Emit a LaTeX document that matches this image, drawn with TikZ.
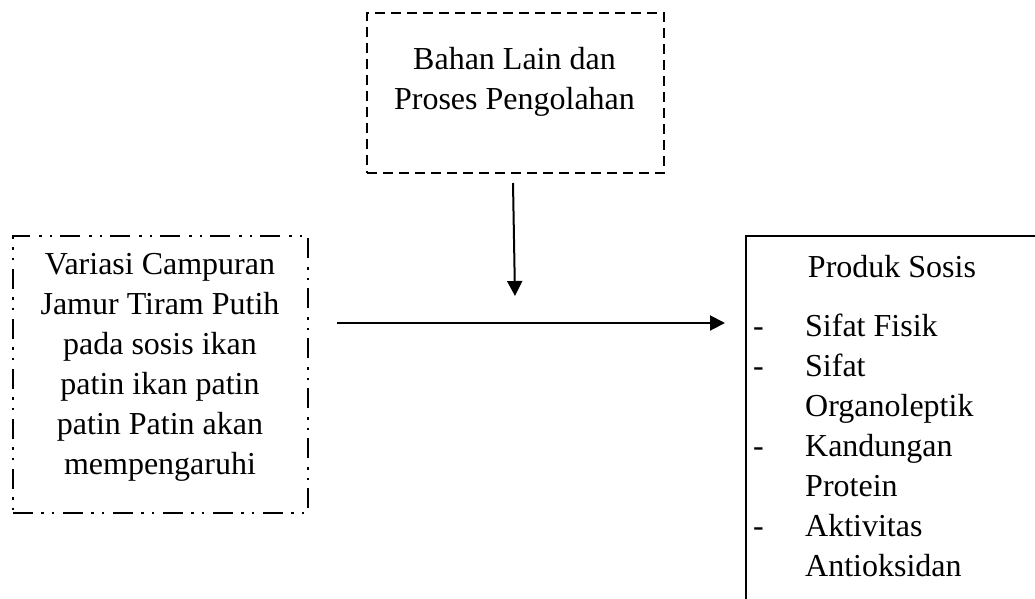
\documentclass[tikz,border=0pt]{standalone}
\usepackage{fontspec}
\setmainfont{Liberation Serif}
\usetikzlibrary{positioning, calc, arrows.meta}

\begin{document}
\begin{tikzpicture}[x=1pt, y=-1pt,
    teks/.style={font=\fontsize{32}{40}\selectfont, align=center, inner sep=0pt},
    kotak/.style={draw, line width=2pt, inner sep=0pt, anchor=north west},
    kotakputus/.style={kotak, dash pattern=on 10pt off 6pt},
    kotaktitik/.style={kotak, dash pattern=on 20pt off 8pt on 2.5pt off 8pt on 2.5pt off 9pt},
    panah/.style={line width=2pt, -{Triangle[width=15pt, length=15pt]}}]
  \useasboundingbox (0,0) rectangle (1035,598);
  \clip (0,0) rectangle (1035,598);

  % kotak atas: bahan lain
  \node[kotakputus, minimum width=297, minimum height=160] (bahan) at (366,12) {};
  \node[teks] (bahanteks) at (514.5,82) {Bahan Lain dan\\Proses Pengolahan};

  % kotak kiri: variasi campuran
  \node[kotaktitik, minimum width=295, minimum height=277] (variasi) at (12,235) {};
  \node[teks] (variasiteks) at (160,367) {Variasi Campuran\\Jamur Tiram Putih\\pada sosis ikan\\patin ikan patin\\patin Patin akan\\mempengaruhi};

  % kotak kanan: produk sosis
  \node[kotak, minimum width=297, minimum height=400] (produk) at (745,235) {};
  \node[teks] (produkjudul) at (892,267) {Produk Sosis};
  \node[teks, anchor=north west, align=left] (produkisi) at (753,308) {%
    \begin{tabular}{@{}p{52pt}@{}l@{}}
      - & Sifat Fisik\\
      - & Sifat\\
        & Organoleptik\\
      - & Kandungan\\
        & Protein\\
      - & Aktivitas\\
        & Antioksidan
    \end{tabular}};

  % panah
  \coordinate (ujungbawah) at (515,296);
  \coordinate (garis) at (0,323);
  \draw[panah] ([xshift=-2.5pt, yshift=-9pt]bahan.south) -- (ujungbawah);
  \draw[panah, shorten <=28pt, shorten >=20pt] (variasi.east |- garis) -- (produk.west |- garis);
\end{tikzpicture}
\end{document}
